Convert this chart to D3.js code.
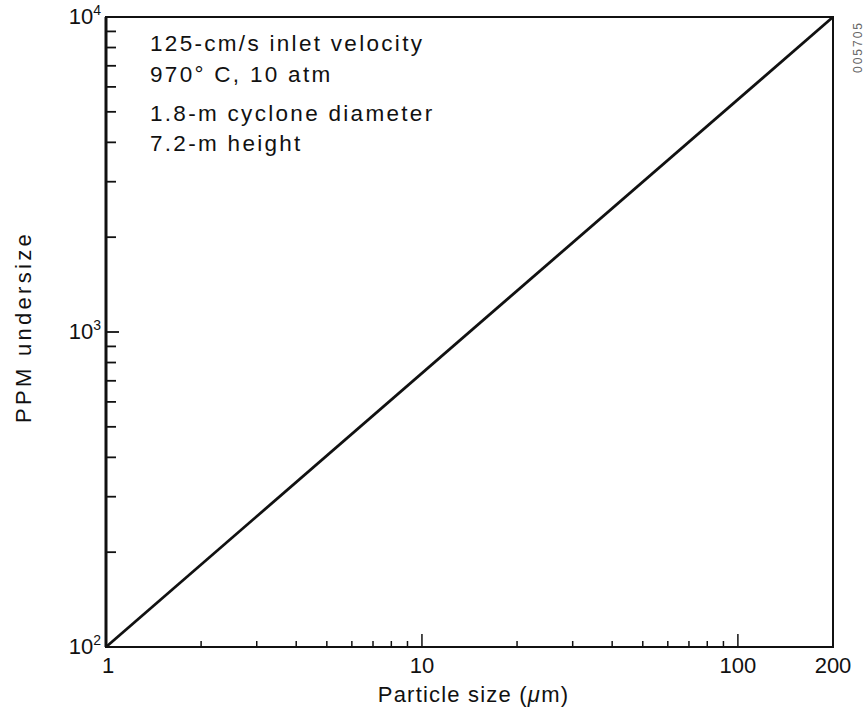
<!DOCTYPE html>
<html>
<head>
<meta charset="utf-8">
<script src="https://cdn.jsdelivr.net/npm/d3@7"></script>
<style>
  body { margin: 0; background: #fff; }
  svg text { font-family: "Liberation Sans", Arial, sans-serif; fill: #111; }
</style>
</head>
<body>
<div id="chart"></div>
<script>
// data
const particle_size = [1, 200];
const ppm_undersize = [100, 10000];
const x_major = [1, 10, 100, 200];
const x_major_labels = ["1", "10", "100", "200"];
const y_major = [100, 1000, 10000];
const notes = ["125-cm/s inlet velocity", "970\u00b0 C, 10 atm", "1.8-m cyclone diameter", "7.2-m height"];

const width = 868, height = 714;
const margin = { top: 17, right: 35, bottom: 67, left: 106 };
const w = width - margin.left - margin.right;
const h = height - margin.top - margin.bottom;

const svg = d3.select("#chart").append("svg")
  .attr("width", width).attr("height", height);
const g = svg.append("g")
  .attr("transform", "translate(" + margin.left + "," + margin.top + ")");

const x = d3.scaleLog().domain([1, 200]).range([0, w]);
const y = d3.scaleLog().domain([100, 10000]).range([h, 0]);

// minor ticks (inside the frame)
const x_minor = [];
for (let d = 1; d <= 100; d *= 10)
  for (let k = 2; k <= 9; k++) if (d * k < 200 && d * k !== 10 && d * k !== 100) x_minor.push(d * k);
const y_minor = [];
for (let d = 100; d < 10000; d *= 10)
  for (let k = 2; k <= 9; k++) y_minor.push(d * k);

g.selectAll(".xminor").data(x_minor).enter().append("line")
  .attr("x1", d => x(d)).attr("x2", d => x(d))
  .attr("y1", h).attr("y2", h - 6)
  .attr("stroke", "#111").attr("stroke-width", 1.5);
g.selectAll(".xmajor").data([10, 100]).enter().append("line")
  .attr("x1", d => x(d)).attr("x2", d => x(d))
  .attr("y1", h).attr("y2", h - 13)
  .attr("stroke", "#111").attr("stroke-width", 1.5);
g.selectAll(".yminor").data(y_minor).enter().append("line")
  .attr("x1", 0).attr("x2", 10)
  .attr("y1", d => y(d)).attr("y2", d => y(d))
  .attr("stroke", "#111").attr("stroke-width", 1.8);
g.append("line")
  .attr("x1", 0).attr("x2", 13)
  .attr("y1", y(1000)).attr("y2", y(1000))
  .attr("stroke", "#111").attr("stroke-width", 1.8);

// frame
g.append("rect")
  .attr("x", 0).attr("y", 0).attr("width", w).attr("height", h)
  .attr("fill", "none").attr("stroke", "#111").attr("stroke-width", 2);
g.append("line")
  .attr("x1", 0).attr("x2", 0).attr("y1", 0).attr("y2", h)
  .attr("stroke", "#111").attr("stroke-width", 3);

// x tick labels
g.selectAll(".xlab").data(x_major).enter().append("text")
  .attr("x", (d, i) => x(d) + (i === 0 ? 2 : 0))
  .attr("y", h + 26)
  .attr("text-anchor", "middle")
  .style("font-size", "22px")
  .text((d, i) => x_major_labels[i]);

// y tick labels as powers of ten
y_major.forEach(function (d) {
  const t = g.append("text")
    .attr("x", -5).attr("y", y(d) + 7)
    .attr("text-anchor", "end")
    .style("font-size", "22px");
  t.append("tspan").text("10");
  t.append("tspan").attr("dy", -9).style("font-size", "14px").text(Math.log10(d));
});

// line
const line = d3.line().x((d, i) => x(particle_size[i])).y(d => y(d));
g.append("path")
  .datum(ppm_undersize)
  .attr("d", line)
  .attr("fill", "none").attr("stroke", "#111").attr("stroke-width", 2.8);

// notes
const noteY = [34, 65, 104, 134];
notes.forEach(function (n, i) {
  g.append("text")
    .attr("x", 44).attr("y", noteY[i])
    .style("font-size", "22.5px")
    .style("letter-spacing", "2.3px")
    .text(n);
});

// axis titles
svg.append("text")
  .attr("x", margin.left + w / 2 + 4).attr("y", 702)
  .attr("text-anchor", "middle")
  .style("font-size", "22px")
  .style("letter-spacing", "1.2px")
  .html("Particle size (<tspan font-style='italic'>\u03bc</tspan>m)");
svg.append("text")
  .attr("transform", "translate(31," + (margin.top + h / 2 - 5) + ") rotate(-90)")
  .attr("text-anchor", "middle")
  .style("font-size", "22px")
  .style("letter-spacing", "3.3px")
  .text("PPM undersize");

// figure code on the right
svg.append("text")
  .attr("transform", "translate(862,47) rotate(-90)")
  .attr("text-anchor", "middle")
  .style("font-size", "12px")
  .style("letter-spacing", "2px")
  .style("fill", "#666")
  .text("005705");
</script>
</body>
</html>
